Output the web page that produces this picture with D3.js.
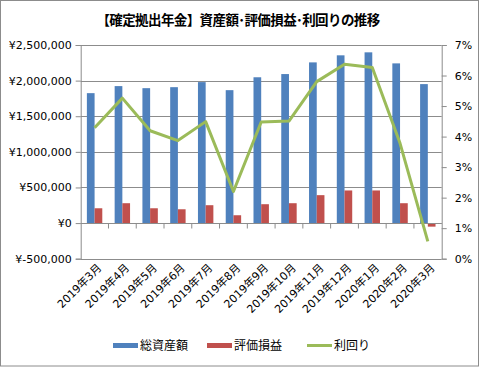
<!DOCTYPE html>
<html><head><meta charset="utf-8">
<script src="https://cdn.jsdelivr.net/npm/d3@7"></script>
<style>
html,body{margin:0;padding:0;background:#fff;}
svg{display:block;}
</style>
</head><body>
<svg id="c" width="480" height="368"></svg>
<script>
const categories = ["2019年3月","2019年4月","2019年5月","2019年6月","2019年7月","2019年8月","2019年9月","2019年10月","2019年11月","2019年12月","2020年1月","2020年2月","2020年3月"];
const totalAssets = [1824000,1923000,1894000,1908000,1979000,1866000,2047000,2092000,2256000,2355000,2397000,2242000,1951000];
const profitLoss = [208000,279000,208000,194000,251000,110000,265000,279000,392000,458000,458000,279000,-50000];
const yieldRate = [0.0429,0.0526,0.0419,0.0387,0.0449,0.0220,0.0448,0.0451,0.0580,0.0637,0.0626,0.0378,0.0057];
const leftTicks = [-500000,0,500000,1000000,1500000,2000000,2500000];
const rightTicks = [0,0.01,0.02,0.03,0.04,0.05,0.06,0.07];
const seriesNames = ["総資産額","評価損益","利回り"];
const titleText = "【確定拠出年金】資産額･評価損益･利回りの推移";

const colors = {blue:"#4F81BD", red:"#C0504D", green:"#9BBB59"};
const svg = d3.select("#c");
const L = 80.7, R = 441.7, T = 45, B = 258.7;
const fontNum = "'DejaVu Sans','Noto Sans CJK JP',sans-serif";
const fontJP = "'Noto Sans CJK JP',sans-serif";

// outer border
svg.append("rect").attr("x",0.5).attr("y",0.5).attr("width",478).attr("height",365.5)
  .attr("fill","#fff").attr("stroke","#8c8c8c").attr("stroke-width",1);

// title
svg.append("text").attr("x",238).attr("y",25).attr("text-anchor","middle")
  .attr("font-family",fontJP).attr("font-weight","bold").attr("font-size",13.5)
  .attr("letter-spacing","-0.6").attr("fill","#000")
  .text(titleText);

const yL = d3.scaleLinear().domain([-500000,2500000]).range([B,T]);
const yR = d3.scaleLinear().domain([0,0.07]).range([B,T]);
const x0 = d3.scaleBand().domain(categories).range([L,R]).paddingInner(0.445).paddingOuter(0.2225);
const x1 = d3.scaleBand().domain([0,1]).range([0,x0.bandwidth()]);
const center = d => x0(d) + x0.bandwidth()/2;

// gridlines
svg.append("g").selectAll("line").data(leftTicks).join("line")
  .attr("x1",L).attr("x2",R).attr("y1",d=>Math.round(yL(d))+0.5).attr("y2",d=>Math.round(yL(d))+0.5)
  .attr("stroke","#8c8c8c").attr("stroke-width",1);

// left axis
const yen = d => "¥" + (d < 0 ? "-" : "") + d3.format(",")(Math.abs(d));
const gL = svg.append("g").attr("transform",`translate(${L},0)`)
  .call(d3.axisLeft(yL).tickValues(leftTicks).tickSize(5).tickPadding(4).tickFormat(yen));
gL.select(".domain").attr("stroke","#8c8c8c");
gL.selectAll(".tick line").attr("stroke","#8c8c8c");
gL.selectAll("text").attr("font-family",fontNum).attr("font-size",11).attr("fill","#000");

// right axis
const gR = svg.append("g").attr("transform",`translate(${R},0)`)
  .call(d3.axisRight(yR).tickValues(rightTicks).tickSize(5).tickPadding(8)
    .tickFormat(d3.format(".0%")));
gR.select(".domain").attr("stroke","#8c8c8c");
gR.selectAll(".tick line").attr("stroke","#8c8c8c");
gR.selectAll("text").attr("font-family",fontNum).attr("font-size",11).attr("fill","#000");

// bars
svg.append("g").selectAll("rect").data(categories).join("rect")
  .attr("x",d=>x0(d)+x1(0)).attr("width",x1.bandwidth())
  .attr("y",(d,i)=>yL(Math.max(0,totalAssets[i])))
  .attr("height",(d,i)=>Math.abs(yL(totalAssets[i])-yL(0)))
  .attr("fill",colors.blue);
svg.append("g").selectAll("rect").data(categories).join("rect")
  .attr("x",d=>x0(d)+x1(1)).attr("width",x1.bandwidth())
  .attr("y",(d,i)=>yL(Math.max(0,profitLoss[i])))
  .attr("height",(d,i)=>Math.abs(yL(profitLoss[i])-yL(0)))
  .attr("fill",colors.red);

// category axis at zero
const gX = svg.append("g").attr("transform",`translate(0,${Math.round(yL(0))+0.5})`);
gX.append("line").attr("x1",L).attr("x2",R).attr("stroke","#8c8c8c");
const bounds = d3.range(1,categories.length).map(i => L + i*x0.step());
gX.selectAll("line.t").data(bounds).join("line").attr("class","t")
  .attr("x1",d=>d).attr("x2",d=>d).attr("y1",0).attr("y2",5).attr("stroke","#8c8c8c");

// category labels
svg.append("g").selectAll("text").data(categories).join("text")
  .attr("transform",d=>`translate(${center(d)+5},${B+7}) rotate(-45)`)
  .attr("text-anchor","end").attr("dy","0.35em")
  .attr("font-family",fontNum).attr("font-size",11).attr("fill","#000")
  .text(d=>d);

// line
const line = d3.line().x((d,i)=>center(categories[i])).y(d=>yR(d));
svg.append("path").datum(yieldRate).attr("d",line)
  .attr("fill","none").attr("stroke",colors.green).attr("stroke-width",3).attr("stroke-linejoin","round");

// legend
const lg = svg.append("g").attr("font-family",fontJP).attr("font-size",12);
const items = [
  {name:seriesNames[0], x:113, type:"rect", c:colors.blue},
  {name:seriesNames[1], x:207, type:"rect", c:colors.red},
  {name:seriesNames[2], x:307, type:"line", c:colors.green}
];
items.forEach(it=>{
  if(it.type==="rect") lg.append("rect").attr("x",it.x).attr("y",343).attr("width",25).attr("height",5).attr("fill",it.c);
  else lg.append("line").attr("x1",it.x).attr("x2",it.x+25).attr("y1",345.5).attr("y2",345.5).attr("stroke",it.c).attr("stroke-width",3);
  lg.append("text").attr("x",it.x+27).attr("y",350).attr("fill","#000").text(it.name);
});
</script>
</body></html>
